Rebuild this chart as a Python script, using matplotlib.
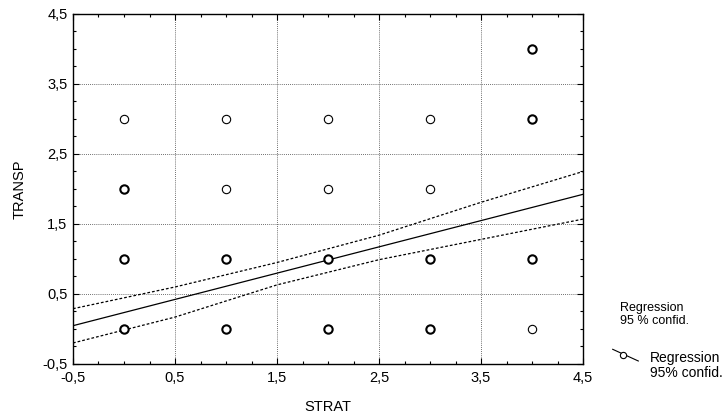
import matplotlib
matplotlib.use("Agg")
import matplotlib.pyplot as plt
from matplotlib.lines import Line2D
from matplotlib.ticker import MultipleLocator, FuncFormatter

plt.rcParams["font.family"] = ["Liberation Sans", "DejaVu Sans"]

# observed points (STRAT, TRANSP) and how many cases overlap at each spot
strat = [0, 0, 0, 0, 1, 1, 1, 1, 2, 2, 2, 2, 3, 3, 3, 3, 4, 4, 4, 4]
transp = [0, 1, 2, 3, 0, 1, 2, 3, 0, 1, 2, 3, 0, 1, 2, 3, 0, 1, 3, 4]
n_cases = [2, 2, 2, 1, 2, 2, 1, 1, 2, 2, 1, 1, 2, 2, 1, 1, 1, 2, 2, 2]

# fitted line and 95% band
fit_x = [-0.5, 4.5]
fit_y = [0.047, 1.924]
band_x = [-0.5, 0.5, 1.5, 2.5, 3.5, 4.5]
band_hi = [0.29, 0.60, 0.95, 1.34, 1.81, 2.25]
band_lo = [-0.20, 0.17, 0.63, 0.99, 1.28, 1.57]

fig = plt.figure(figsize=(7.27, 4.19), dpi=100)
ax = fig.add_axes([0.1004, 0.1313, 0.7016, 0.8353])

ax.plot(fit_x, fit_y, color="black", lw=0.9, zorder=3)
ax.plot(band_x, band_hi, color="black", lw=0.9, ls=(0, (2.2, 1.6)), zorder=3)
ax.plot(band_x, band_lo, color="black", lw=0.9, ls=(0, (2.2, 1.6)), zorder=3)

for xi, yi, n in zip(strat, transp, n_cases):
    ax.plot(xi, yi, "o", ms=6, mfc="white", mec="black",
            mew=1.5 if n > 1 else 0.8, zorder=4)

ax.set_xlim(-0.5, 4.5)
ax.set_ylim(-0.5, 4.5)
ax.xaxis.set_major_locator(MultipleLocator(1.0, offset=0.5))
ax.yaxis.set_major_locator(MultipleLocator(1.0, offset=0.5))
ax.xaxis.set_minor_locator(MultipleLocator(0.25))
ax.yaxis.set_minor_locator(MultipleLocator(0.25))
comma = FuncFormatter(lambda v, p: f"{v:.1f}".replace(".", ","))
ax.xaxis.set_major_formatter(comma)
ax.yaxis.set_major_formatter(comma)
ax.tick_params(which="both", direction="in", top=True, right=True,
               labelsize=10.5, width=0.8)
ax.tick_params(which="major", length=4)
ax.tick_params(axis="x", which="major", pad=5)
ax.tick_params(axis="y", which="major", pad=4)
ax.tick_params(which="minor", length=2)
ax.grid(True, which="major", ls=(0, (1, 1.5)), lw=0.6, color="0.25")
for s in ax.spines.values():
    s.set_linewidth(1.0)

ax.set_xlabel("STRAT", fontsize=10.5, labelpad=11)
ax.set_ylabel("TRANSP", fontsize=10.5, labelpad=11)

# legend area on the right
W, H = 727.0, 419.0
fig.text(620 / W, 1 - 310.7 / H, "Regression", fontsize=9,
         va="baseline", ha="left")
fig.text(620 / W, 1 - 324.3 / H, "95 % confid.", fontsize=9,
         va="baseline", ha="left")
fig.add_artist(Line2D([612.7 / W, 638.3 / W], [1 - 349.3 / H, 1 - 361 / H],
                      color="black", lw=0.8, transform=fig.transFigure))
fig.add_artist(Line2D([623.3 / W], [1 - 355 / H], marker="o", ms=4.5,
                      mfc="white", mec="black", mew=0.8,
                      transform=fig.transFigure))
fig.text(650 / W, 1 - 361.7 / H, "Regression", fontsize=10,
         va="baseline", ha="left")
fig.text(650 / W, 1 - 377.3 / H, "95% confid.", fontsize=10,
         va="baseline", ha="left")

fig.savefig("out.png", dpi=100)
